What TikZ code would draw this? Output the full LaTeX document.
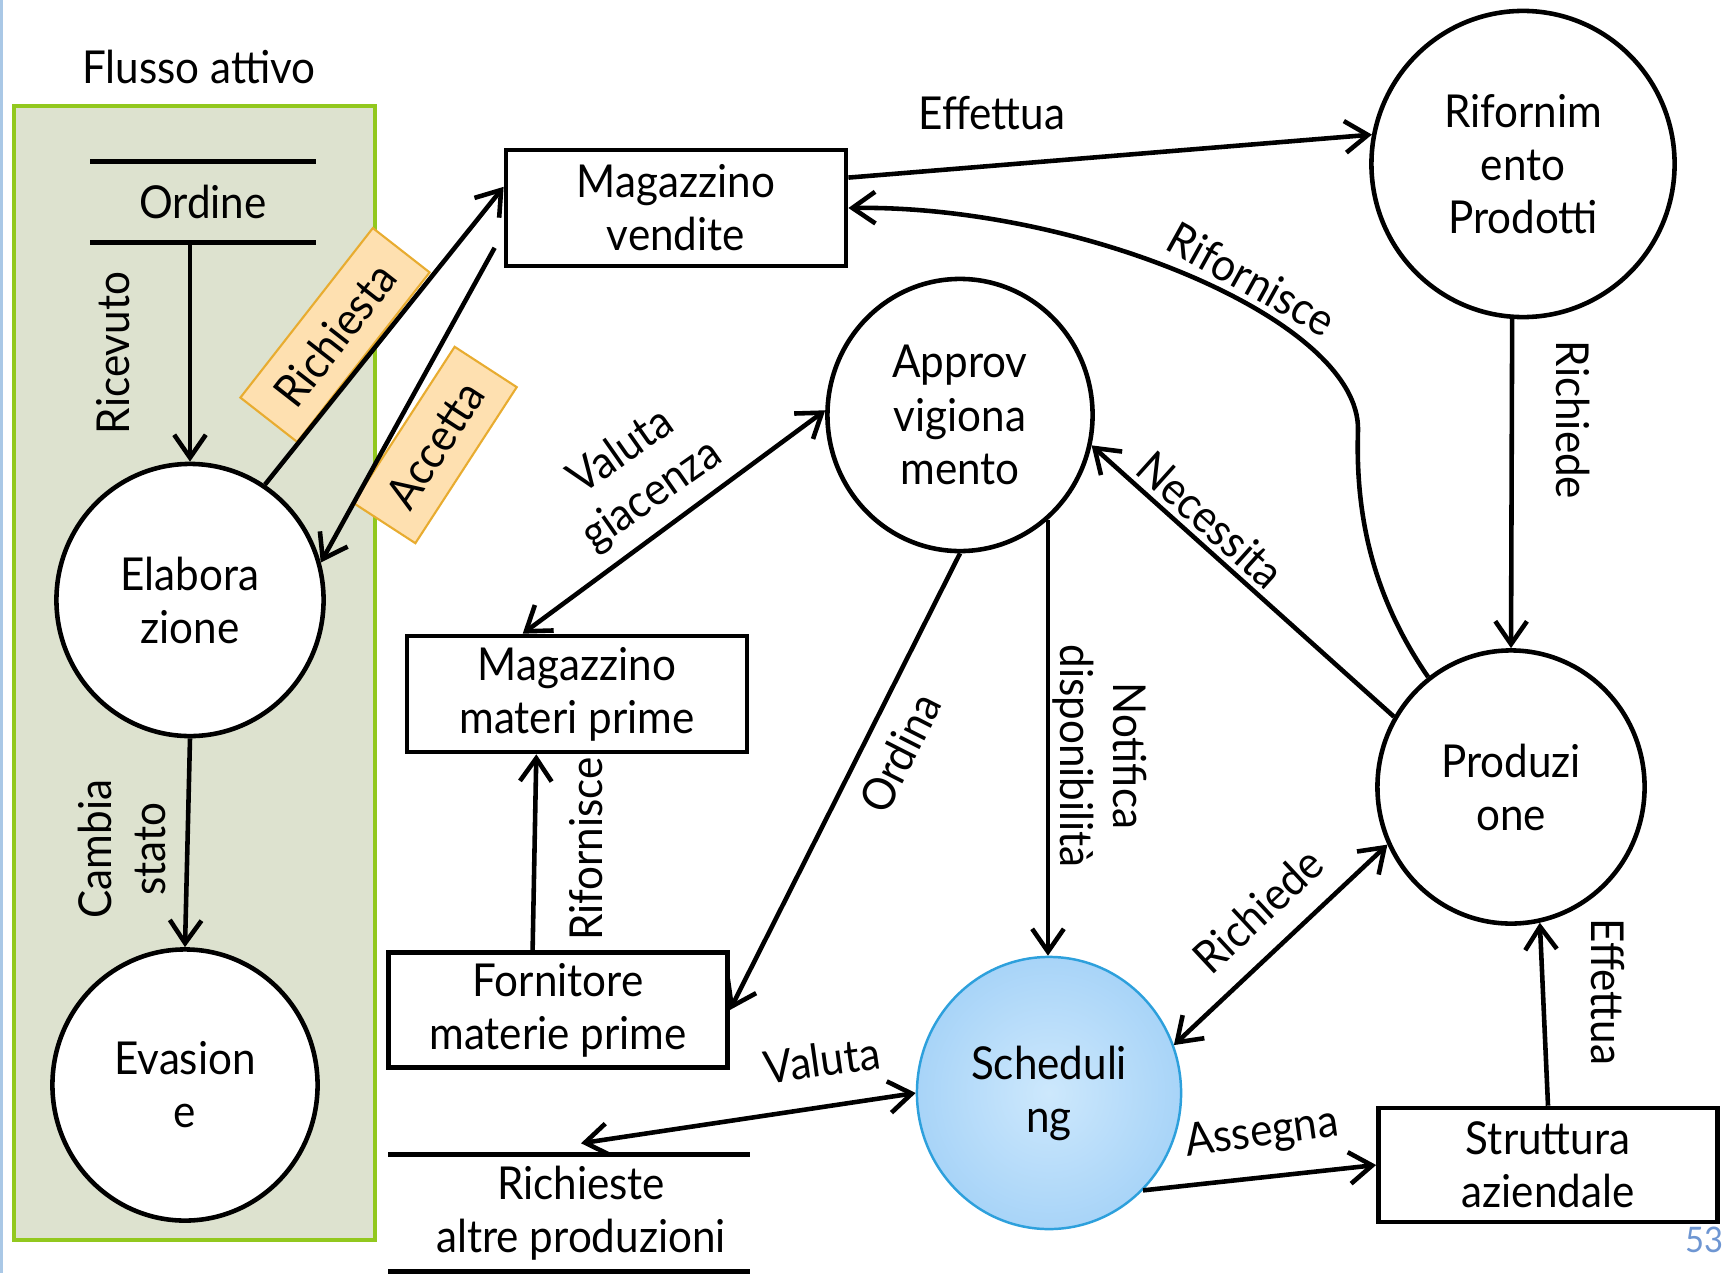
\documentclass[tikz,border=0pt]{standalone}
\usepackage{fontspec}
\setmainfont{Lato}[FakeStretch=0.93]
\usetikzlibrary{arrows.meta,shapes.geometric}
\definecolor{panelgreen}{RGB}{221,226,207}
\definecolor{paneledge}{RGB}{146,200,30}
\definecolor{tagfill}{RGB}{254,224,176}
\definecolor{tagedge}{RGB}{232,172,48}
\definecolor{schedin}{RGB}{205,232,252}
\definecolor{schedout}{RGB}{168,212,248}
\definecolor{schededge}{RGB}{45,160,220}
\definecolor{pagenum}{RGB}{110,150,210}
\definecolor{slideedge}{RGB}{170,200,230}
\tikzset{
  every node/.style={font=\fontsize{12.9}{15.1}\selectfont},
  proc/.style={draw,ellipse,line width=1.3pt,fill=white,inner sep=0pt,align=center},
  store/.style={draw,rectangle,line width=1.3pt,fill=white,inner sep=0pt,align=center},
  datastore/.style={inner sep=0pt,align=center},
  tag/.style={draw=tagedge,fill=tagfill,line width=0.6pt,inner sep=0pt},
  flow/.style={line width=1.3pt,-{Straight Barb[length=6.5pt,width=9pt]}},
  biflow/.style={line width=1.3pt,{Straight Barb[length=6.5pt,width=9pt]}-{Straight Barb[length=6.5pt,width=9pt]}}
}
\begin{document}
\begin{tikzpicture}[x=0.01cm,y=-0.01cm]
\useasboundingbox (0,0) rectangle (1728,1273);
\fill[slideedge] (0,0) rectangle (3,1273);
\filldraw[fill=panelgreen,draw=paneledge,line width=1pt] (14,106) rectangle (375,1240);
\node (flusso) at (199,67) {Flusso attivo};

\node[proc,minimum width=2.67cm,minimum height=2.72cm] (elab) at (190,600) {Elabora\\zione};
\node[proc,minimum width=2.65cm,minimum height=2.71cm] (evas) at (185,1085) {Evasion\\e};
\node[proc,minimum width=3.03cm,minimum height=3.06cm] (rifp) at (1523,164) {Rifornim\\ento\\Prodotti};
\node[proc,minimum width=2.65cm,minimum height=2.72cm] (appr) at (960,415) {Approv\\vigiona\\mento};
\node[proc,minimum width=2.67cm,minimum height=2.73cm] (prod) at (1511,787) {Produzi\\one};
\node[proc,draw=schededge,line width=0.7pt,inner color=schedin,outer color=schedout,
  minimum width=2.64cm,minimum height=2.72cm] (sched) at (1049,1093) {Scheduli\\ng};

\node[store,minimum width=3.40cm,minimum height=1.16cm] (magv) at (676,208) {Magazzino\\vendite};
\node[store,minimum width=3.40cm,minimum height=1.16cm] (magmp) at (577,694) {Magazzino\\materi prime};
\node[store,minimum width=3.39cm,minimum height=1.15cm] (forn) at (558,1010) {Fornitore\\materie prime};
\node[store,minimum width=3.39cm,minimum height=1.14cm] (strut) at (1548,1165) {Struttura\\aziendale};

\node[datastore,minimum width=2.24cm,minimum height=0.80cm] (ordine) at (203,202) {Ordine};
\draw[line width=1.5pt] (ordine.north west) -- (ordine.north east) (ordine.south west) -- (ordine.south east);
\node[datastore,minimum width=3.60cm,minimum height=1.16cm] (richieste) at (581,1213) {Richieste\\altre produzioni};
\draw[line width=1.3pt] ([xshift=-0.12cm]richieste.north west) -- ([xshift=-0.12cm]richieste.north east)
  ([xshift=-0.12cm]richieste.south west) -- ([xshift=-0.12cm]richieste.south east);

\node[tag,rotate=52,minimum width=2.15cm,minimum height=0.72cm] (tagrich) at (335,335) {Richiesta};
\node[tag,rotate=57,minimum width=1.86cm,minimum height=0.74cm] (tagacc) at (435,445) {Accetta};

\draw[flow] (ordine.south -| elab.north) -- (elab.north);
\draw[flow] (elab.south) -- (evas.north);
\draw[flow] (elab.57) -- (magv.173);
\draw[flow] ([xshift=-0.09cm]magv.193) -- (elab.16);
\draw[flow] (magv.10) -- (rifp.169);
\draw[flow] (prod.127) .. controls (1375,600) and (1355,520) .. (1358,430)
  .. controls (1360,320) and (1080,205) .. (magv.east);
\draw[flow] (rifp.266) -- (prod.north);
\draw[biflow] (magmp.132) -- (appr.178);
\draw[flow] (prod.149) -- (appr.347);
\draw[flow] (appr.south) -- (forn.east);
\draw[flow] (appr.310) -- (appr.310 |- sched.north);
\draw[flow] (forn.113) -- (magmp.236);
\draw[biflow] ([yshift=0.11cm]richieste.north) -- (sched.west);
\draw[biflow] (sched.21) -- (prod.205);
\draw[flow] (sched.314) -- (strut.west);
\draw[flow] (strut.north) -- (prod.282);

\node[rotate=90] (lricev) at (113,353) {Ricevuto};
\node[rotate=90,align=center] (lcambia) at (122,849) {Cambia\\stato};
\node (leffet) at (992,113) {Effettua};
\node[rotate=-29] (lrifor) at (1252,279) {Rifornisce};
\node[rotate=-90] (lrichi) at (1573,420) {Richiede};
\node[rotate=35,align=center] (lgiac) at (637,474) {Valuta\\giacenza};
\node[rotate=-42] (lneces) at (1211,520) {Necessita};
\node[rotate=63] (lordina) at (900,753) {Ordina};
\node[rotate=-90,align=center] (lnotif) at (1100,756) {Notifica\\disponibilità};
\node[rotate=90] (lrifmp) at (586,849) {Rifornisce};
\node[rotate=8] (lvaluta) at (822,1060) {Valuta};
\node[rotate=43] (lrichsc) at (1258,910) {Richiede};
\node[rotate=8] (lasseg) at (1262,1134) {Assegna};
\node[rotate=-90] (leffstr) at (1608,992) {Effettua};
\node[text=pagenum,font=\fontsize{10}{12}\selectfont] (pnum) at (1704,1240) {53};
\end{tikzpicture}
\end{document}
